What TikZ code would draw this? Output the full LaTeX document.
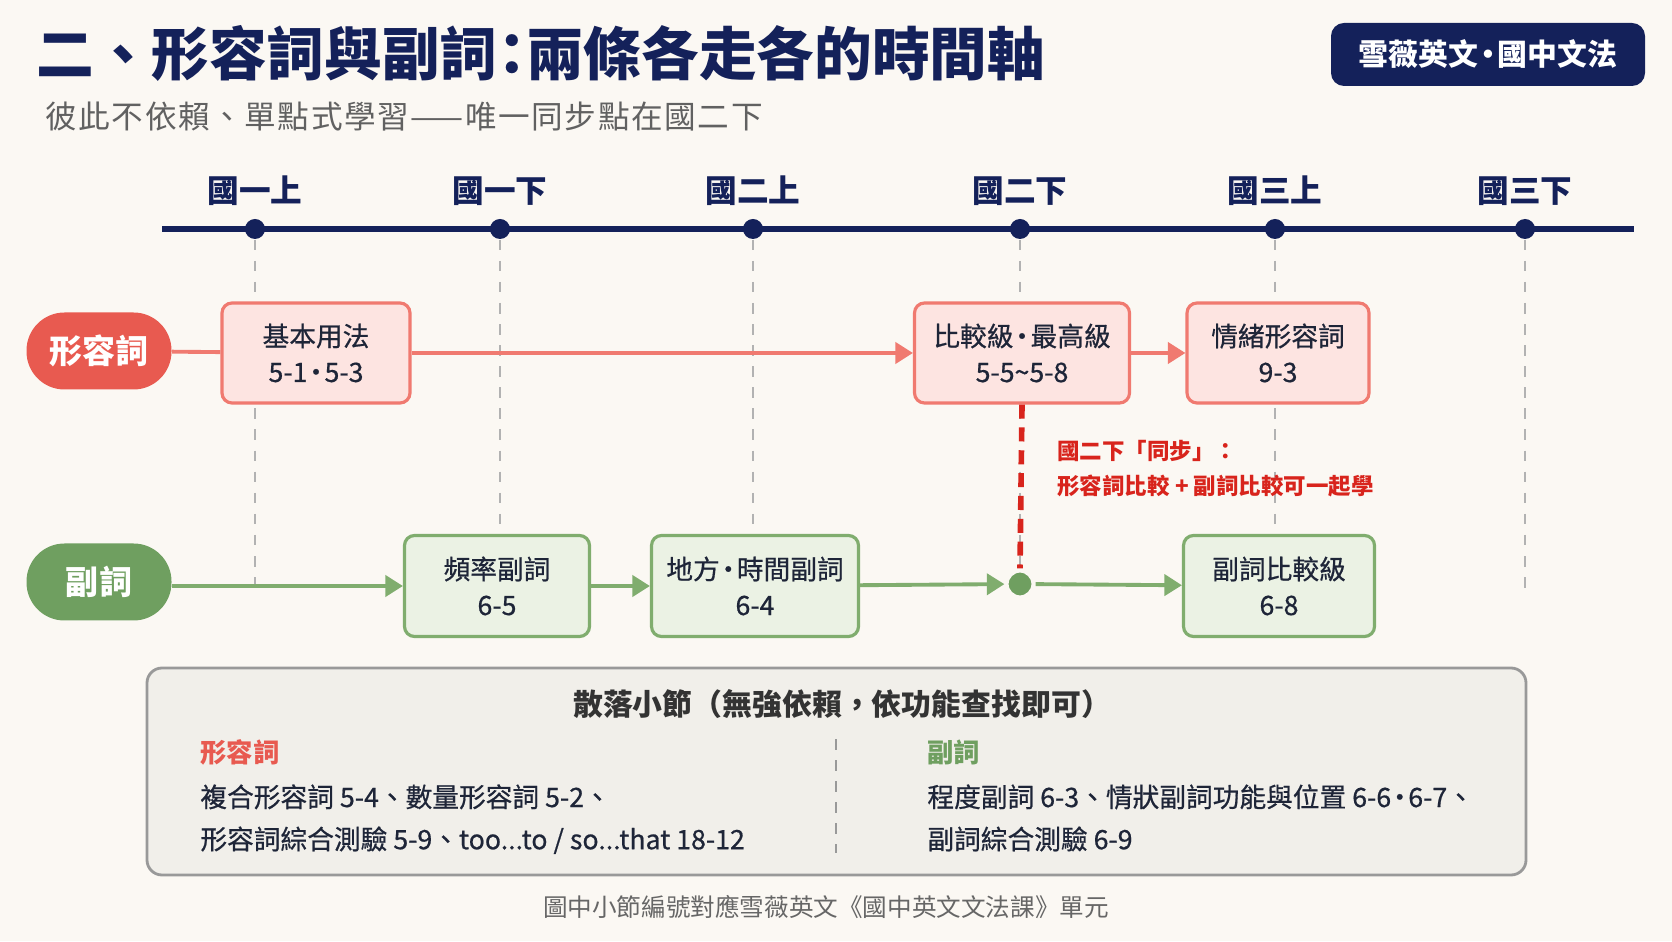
\documentclass[tikz,border=0pt]{standalone}
\usepackage{fontspec}
\setmainfont{Noto Sans CJK TC}
\usetikzlibrary{arrows.meta}
\definecolor{paper}{HTML}{FBF8F3}
\definecolor{navy}{HTML}{14215A}
\definecolor{ink}{HTML}{1E2538}
\definecolor{adjred}{HTML}{E85A50}
\definecolor{adjfill}{HTML}{FDE4E1}
\definecolor{adjline}{HTML}{F07A70}
\definecolor{advgreen}{HTML}{6F9F60}
\definecolor{advfill}{HTML}{EBF2E4}
\definecolor{advline}{HTML}{80AD6E}
\definecolor{syncred}{HTML}{D8241C}
\definecolor{notefill}{HTML}{F1EFEA}
\newcommand\fsz[2]{\fontsize{#1}{#2}\selectfont}
\newcommand\medium{\addfontfeature{FakeBold=0.6}}
\newcommand\mdot{\kern-0.18em·\kern-0.18em}

\begin{document}
\begin{tikzpicture}[
  pill/.style={rounded corners=0.38cm,minimum width=1.45cm,minimum height=0.77cm,text=white,font=\fsz{9.4}{11}\bfseries},
  adjbox/.style={draw=adjline,line width=0.9pt,fill=adjfill,rounded corners=0.1cm,minimum height=1cm,align=center,text=ink,font=\fsz{7.6}{10.2}\medium},
  advbox/.style={draw=advline,line width=0.9pt,fill=advfill,rounded corners=0.1cm,minimum height=1.01cm,align=center,text=ink,font=\fsz{7.6}{10.2}\medium},
  adjarrow/.style={adjline,line width=1.1pt,-{Triangle[length=5pt,width=6pt]}},
  advarrow/.style={advline,line width=1.1pt,-{Triangle[length=5pt,width=6pt]}},
  tlabel/.style={text=navy,font=\fsz{9}{11}\bfseries}
]
\useasboundingbox (0,0) rectangle (16.72,9.41);
\fill[paper] (0,0) rectangle (16.72,9.41);
% heading
\node[anchor=west,text=navy,font=\fsz{16.4}{18}\bfseries] (title) at (0.24,8.88) {二、形容詞與副詞\kern-0.25em：\kern-0.25em兩條各走各的時間軸};
\node[anchor=west,text=black!62,font=\fsz{9}{10}\addfontfeature{LetterSpace=5}] (subtitle) at (0.33,8.24) {彼此不依賴、單點式學習——唯一同步點在國二下};
\node[fill=navy,rounded corners=0.13cm,minimum width=3.14cm,minimum height=0.63cm,text=white,font=\fsz{8.5}{10}\bfseries] (badge) at (14.88,8.865) {雪薇英文\mdot 國中文法};
% timeline
\coordinate (axl) at (1.62,7.12); \coordinate (axr) at (16.34,7.12);
\draw[navy,line width=1.6pt] (axl) -- (axr);
\foreach \x/\t [count=\i] in {2.55/國一上,5.00/國一下,7.53/國二上,10.20/國二下,12.75/國三上,15.25/國三下} {
  \node[circle,fill=navy,inner sep=0pt,minimum size=0.2cm] (t\i) at (\x,7.12) {};
  \coordinate (e\i) at (\x,3.5);
  \draw[black!30,dashed,line width=0.5pt] (t\i) -- (e\i);
  \node[tlabel] (tl\i) at (\x,7.50) {\t};
}
% adjective track
\node[pill,fill=adjred] (adj) at (0.99,5.90) {形容詞};
\node[adjbox,minimum width=1.88cm] (a1) at (3.16,5.88) {基本用法\\5-1\mdot 5-3};
\node[adjbox,minimum width=2.15cm] (a2) at (10.22,5.88) {比較級\mdot 最高級\\5-5\textasciitilde5-8};
\node[adjbox,minimum width=1.82cm] (a3) at (12.78,5.88) {情緒形容詞\\9-3};
\draw[adjline,line width=1.1pt] (adj) -- (a1);
\draw[adjarrow] (a1) -- (a2);
\draw[adjarrow] (a2) -- (a3);
% adverb track
\node[pill,fill=advgreen] (adv) at (0.99,3.59) {副詞};
\node[advbox,minimum width=1.85cm] (g1) at (4.97,3.55) {頻率副詞\\6-5};
\node[advbox,minimum width=2.07cm] (g2) at (7.55,3.55) {地方\mdot 時間副詞\\6-4};
\node[circle,fill=advgreen,draw=paper,line width=1.2pt,inner sep=0pt,minimum size=0.27cm] (sync) at (10.20,3.57) {};
\node[advbox,minimum width=1.91cm] (g3) at (12.79,3.55) {副詞比較級\\6-8};
\draw[advarrow] (adv.east |- g1) -- (g1);
\draw[advarrow] (g1) -- (g2);
\draw[advarrow] (g2) -- (sync);
\draw[advarrow] (sync) -- (g3);
% sync link
\draw[syncred,dash pattern=on 4pt off 2.5pt,line width=1.6pt] (a2.south) -- (sync.north);
\node[anchor=west,align=left,text=syncred,font=\fsz{6.4}{10}\bfseries] (syncnote) at (10.45,4.72) {國二下「同步」：\\形容詞比較 + 副詞比較可一起學};
% loose sections
\node[draw=black!40,line width=0.8pt,fill=notefill,rounded corners=0.15cm,minimum width=13.79cm,minimum height=2.07cm] (loose) at (8.365,1.695) {};
\node[text=black!80,font=\fsz{8.5}{10}\bfseries] (loosetitle) at (8.42,2.37) {散落小節（無強依賴，依功能查找即可）};
\coordinate (divtop) at (8.36,2.02); \coordinate (divbot) at (8.36,0.88);
\draw[black!40,dashed,line width=0.6pt] (divtop) -- (divbot);
\node[anchor=west,text=adjred,font=\fsz{7.5}{9}\bfseries] (ladj) at (1.88,1.89) {形容詞};
\node[anchor=north west,align=left,text=ink,font=\fsz{7.6}{12}\medium] (ladjtxt) at (1.88,1.69) {複合形容詞 5-4、數量形容詞 5-2、\\形容詞綜合測驗 5-9、too...to / so...that 18-12};
\node[anchor=west,text=advgreen,font=\fsz{7.5}{9}\bfseries] (ladv) at (9.15,1.89) {副詞};
\node[anchor=north west,align=left,text=ink,font=\fsz{7.6}{12}\medium] (ladvtxt) at (9.15,1.69) {程度副詞 6-3、情狀副詞功能與位置 6-6\mdot 6-7、\\副詞綜合測驗 6-9};
% footnote
\node[text=black!60,font=\fsz{7}{8}] (foot) at (8.26,0.34) {圖中小節編號對應雪薇英文《國中英文文法課》單元};
\end{tikzpicture}
\end{document}
